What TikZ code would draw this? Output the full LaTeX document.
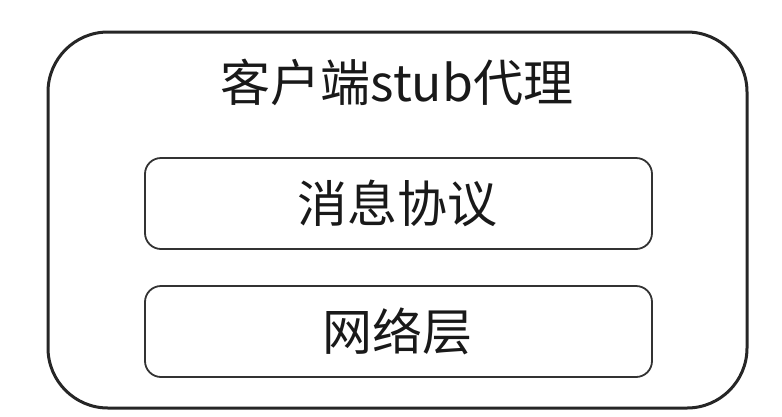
\documentclass[tikz,border=0pt]{standalone}
\usepackage{fontspec}
\newfontfamily\cjk{Noto Sans CJK SC}
\begin{document}
\begin{tikzpicture}[x=1pt,y=-1pt,
  outerbox/.style={draw=black!85,line width=3pt,rounded corners=60pt},
  innerbox/.style={draw=black!80,line width=1.8pt,rounded corners=16pt},
  lbl/.style={font=\cjk\fontsize{50}{56}\selectfont,text=black!90,inner sep=0pt}]
\useasboundingbox (0,0) rectangle (782,416);
\draw[outerbox] (48,32) rectangle (747,408);
\draw[innerbox] (145,158) rectangle (652,249);
\draw[innerbox] (145,286) rectangle (652,377);
\node[lbl] (title) at (397,82) {客户端stub代理};
\node[lbl] (msg) at (397,203) {消息协议};
\node[lbl] (net) at (397,331) {网络层};
\end{tikzpicture}
\end{document}
